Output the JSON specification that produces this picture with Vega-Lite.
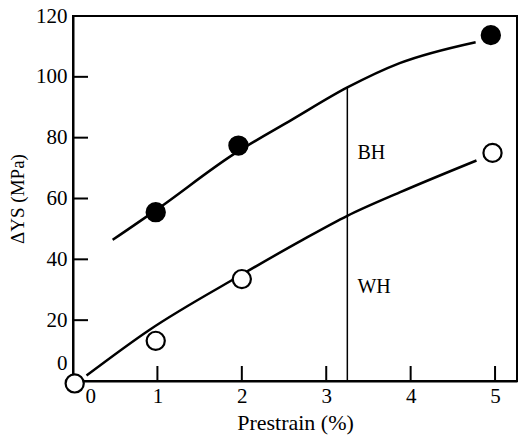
{
  "$schema": "https://vega.github.io/schema/vega-lite/v6.json",
  "width": 444,
  "height": 365,
  "autosize": {"type": "none"},
  "padding": {"left": 73, "top": 16, "right": 5, "bottom": 61},
  "background": "white",
  "config": {
    "font": "Liberation Serif, serif",
    "view": {"stroke": "black", "strokeWidth": 2},
    "axis": {
      "grid": false,
      "ticks": false,
      "domainColor": "black",
      "domainWidth": 2,
      "labelColor": "black",
      "labelFont": "Liberation Serif, serif",
      "labelFontSize": 21,
      "titleFont": "Liberation Serif, serif",
      "titleFontWeight": "normal",
      "titleColor": "black"
    }
  },
  "datasets": {
    "curves": [
      {"series": "BH", "strain": 0.47, "dys": 46.4},
      {"series": "BH", "strain": 1.0, "dys": 56.5},
      {"series": "BH", "strain": 1.9, "dys": 74.5},
      {"series": "BH", "strain": 2.6, "dys": 86},
      {"series": "BH", "strain": 3.25, "dys": 96.5},
      {"series": "BH", "strain": 3.87, "dys": 104.5},
      {"series": "BH", "strain": 4.77, "dys": 111.4},
      {"series": "WH", "strain": 0.16, "dys": 1.8},
      {"series": "WH", "strain": 0.9, "dys": 16.7},
      {"series": "WH", "strain": 2.0, "dys": 35},
      {"series": "WH", "strain": 2.72, "dys": 46.4},
      {"series": "WH", "strain": 3.25, "dys": 54.3},
      {"series": "WH", "strain": 3.87, "dys": 62},
      {"series": "WH", "strain": 4.78, "dys": 72.5}
    ],
    "points": [
      {"series": "BH", "strain": 0.98, "dys": 55.5},
      {"series": "BH", "strain": 1.96, "dys": 77.4},
      {"series": "BH", "strain": 4.95, "dys": 113.7},
      {"series": "WH", "strain": 0.02, "dys": -0.8},
      {"series": "WH", "strain": 0.98, "dys": 13.2},
      {"series": "WH", "strain": 2.0, "dys": 33.5},
      {"series": "WH", "strain": 4.97, "dys": 75}
    ],
    "arrow": [
      {"strain": 3.25, "from": 0, "to": 96.5}
    ],
    "heads": [
      {"strain": 3.25, "dys": 96.5, "dir": "up"},
      {"strain": 3.25, "dys": 54.3, "dir": "down"},
      {"strain": 3.25, "dys": 54.3, "dir": "up"},
      {"strain": 3.25, "dys": 0, "dir": "down"}
    ],
    "labels": [
      {"strain": 3.37, "dys": 75, "text": "BH"},
      {"strain": 3.37, "dys": 31, "text": "WH"}
    ],
    "ticks": [
      {"axis": "x", "strain": 1, "dys": 0},
      {"axis": "x", "strain": 2, "dys": 0},
      {"axis": "x", "strain": 3, "dys": 0},
      {"axis": "x", "strain": 4, "dys": 0},
      {"axis": "x", "strain": 5, "dys": 0},
      {"axis": "y", "strain": 0, "dys": 20},
      {"axis": "y", "strain": 0, "dys": 40},
      {"axis": "y", "strain": 0, "dys": 60},
      {"axis": "y", "strain": 0, "dys": 80},
      {"axis": "y", "strain": 0, "dys": 100}
    ]
  },
  "layer": [
    {
      "data": {"name": "curves"},
      "mark": {"type": "line", "interpolate": "monotone", "color": "black", "strokeWidth": 2.5},
      "encoding": {
        "x": {"field": "strain", "type": "quantitative",
              "scale": {"domain": [0, 5.26], "nice": false, "zero": false},
              "axis": {"values": [0, 1, 2, 3, 4, 5], "format": "d", "title": "Prestrain (%)",
                       "titleFontSize": 22, "labelPadding": 4, "titlePadding": 6,
                       "labelOffset": {"condition": {"test": "datum.value === 0", "value": 12}, "value": 0}}},
        "y": {"field": "dys", "type": "quantitative",
              "scale": {"domain": [0, 120], "nice": false},
              "axis": {"values": [0, 20, 40, 60, 80, 100, 120], "format": "d", "title": "ΔYS (MPa)",
                       "titleFontSize": 19, "labelPadding": 6, "titlePadding": 8,
                       "labelOffset": {"condition": {"test": "datum.value === 0", "value": -18}, "value": 0}}},
        "detail": {"field": "series"}
      }
    },
    {
      "data": {"name": "ticks"},
      "mark": {"type": "point", "filled": false, "stroke": "black", "strokeWidth": 2, "size": 225, "opacity": 1, "clip": false},
      "encoding": {
        "x": {"field": "strain", "type": "quantitative"},
        "y": {"field": "dys", "type": "quantitative"},
        "shape": {"field": "axis", "type": "nominal", "legend": null,
                  "scale": {"domain": ["x", "y"], "range": ["M0,0L0,-2", "M0,0L2,0"]}}
      }
    },
    {
      "data": {"name": "arrow"},
      "mark": {"type": "rule", "color": "black", "strokeWidth": 1.5},
      "encoding": {
        "x": {"field": "strain", "type": "quantitative"},
        "y": {"field": "from", "type": "quantitative"},
        "y2": {"field": "to"}
      }
    },
    {
      "data": {"name": "heads"},
      "mark": {"type": "point", "filled": true, "color": "black", "size": 300, "opacity": 1},
      "encoding": {
        "x": {"field": "strain", "type": "quantitative"},
        "y": {"field": "dys", "type": "quantitative"},
        "shape": {"field": "dir", "type": "nominal", "legend": null,
                  "scale": {"domain": ["up", "down"], "range": ["M0,0L-0.35,1L0.35,1Z", "M0,0L-0.35,-1L0.35,-1Z"]}}
      }
    },
    {
      "data": {"name": "points"},
      "mark": {"type": "point", "shape": "circle", "size": 330, "strokeWidth": 2.2, "stroke": "black", "opacity": 1, "clip": false},
      "encoding": {
        "x": {"field": "strain", "type": "quantitative"},
        "y": {"field": "dys", "type": "quantitative"},
        "fill": {"field": "series", "type": "nominal", "legend": null,
                 "scale": {"domain": ["BH", "WH"], "range": ["black", "white"]}}
      }
    },
    {
      "data": {"name": "labels"},
      "mark": {"type": "text", "align": "left", "baseline": "middle", "fontSize": 20, "font": "Liberation Serif, serif", "color": "black"},
      "encoding": {
        "x": {"field": "strain", "type": "quantitative"},
        "y": {"field": "dys", "type": "quantitative"},
        "text": {"field": "text"}
      }
    }
  ]
}
